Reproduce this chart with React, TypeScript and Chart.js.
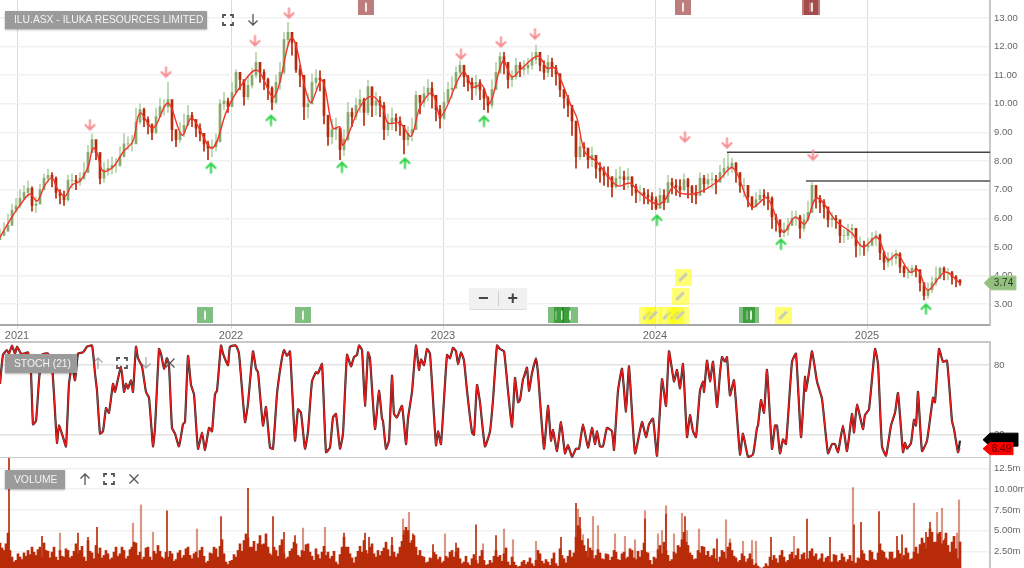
import React, { useEffect, useRef } from "react";
import { Chart, registerables } from "chart.js";

Chart.register(...registerables);

// time axis: trading-session number
const yearSessions = [17, 231, 443, 655, 867];
const yearLabels = ["2021", "2022", "2023", "2024", "2025"];
const sessionMin = 0;
const sessionMax = 990;
const candleSessionStep = 4;

const priceTicks = [3, 4, 5, 6, 7, 8, 9, 10, 11, 12, 13];
const stochTicks = [20, 80];
const volumeTicks = [2.5, 5, 7.5, 10, 12.5];
const volumeTickLabels = ["2.50m", "5.00m", "7.50m", "10.00m", "12.5m"];

const closes = [
  5.40,5.55,5.75,6.28,6.43,6.70,6.90,7.05,6.45,6.50,
  7.00,7.40,7.50,7.40,6.90,6.80,6.65,7.33,7.33,7.27,
  7.40,7.60,8.30,8.75,8.30,7.40,7.70,7.75,7.85,7.85,
  8.15,8.60,8.60,8.60,9.37,9.80,9.45,9.27,9.00,9.55,
  9.90,9.90,10.15,9.10,8.75,9.00,9.25,9.60,9.45,9.15,
  8.97,8.60,8.45,8.50,8.67,10.00,10.10,9.90,10.40,11.10,
  10.85,10.25,10.65,11.00,11.45,11.10,10.85,10.55,10.05,10.75,
  11.10,12.25,12.50,12.15,11.20,11.00,9.90,10.00,10.75,10.90,
  10.85,9.60,8.85,9.10,9.15,8.40,8.75,9.70,9.55,9.95,
  10.15,9.70,10.60,9.95,10.10,9.95,9.10,9.35,9.50,9.40,
  9.25,8.75,8.97,9.10,10.30,10.05,10.35,10.55,10.30,9.80,
  9.50,10.05,10.50,10.55,11.10,11.35,10.95,10.75,10.55,10.75,
  10.50,10.20,9.95,10.50,11.10,11.65,11.45,10.85,10.95,11.35,
  11.20,11.25,11.35,11.55,11.80,11.35,11.10,11.45,11.25,11.05,
  10.50,10.20,9.95,9.40,8.15,8.50,8.45,8.05,8.20,7.75,
  7.65,7.50,7.45,7.10,7.40,7.45,7.35,7.45,7.10,6.90,
  6.90,6.80,6.75,6.65,6.35,6.80,6.55,7.25,7.15,7.10,
  7.00,7.35,7.10,6.90,6.80,7.40,7.20,7.35,7.35,7.27,
  7.60,7.75,7.80,7.93,7.60,7.15,7.15,6.75,6.40,6.65,
  6.80,6.75,6.70,6.05,5.95,5.50,5.60,5.75,6.00,6.05,
  5.65,5.95,6.20,7.15,6.70,6.55,6.40,5.95,6.00,5.95,
  5.40,5.40,5.60,5.65,5.05,5.05,5.00,5.05,5.30,5.40,
  4.80,4.47,4.60,4.60,4.75,4.30,4.10,4.10,4.25,4.20,
  3.75,3.30,3.50,3.75,3.90,4.25,4.10,4.10,3.95,3.85,
  3.74,
];
const highs = [
  5.62,5.85,6.15,6.50,6.70,7.00,7.15,7.30,7.10,6.75,
  7.20,7.55,7.72,7.60,7.45,7.00,6.95,7.50,7.55,7.50,
  7.60,7.95,8.55,8.95,8.70,7.85,7.95,8.05,8.15,8.10,
  8.50,8.95,8.85,8.90,9.85,10.00,9.85,9.55,9.30,9.85,
  10.20,10.15,10.75,10.05,9.05,9.35,9.65,9.95,9.70,9.45,
  9.30,8.90,8.70,8.75,8.95,10.15,10.40,10.20,10.75,11.20,
  11.10,10.70,10.95,11.25,11.80,11.45,11.20,10.90,10.60,11.00,
  11.45,12.50,12.85,12.40,11.85,11.35,10.75,10.35,11.05,11.20,
  11.15,10.85,9.30,9.45,9.50,9.00,9.10,10.05,9.85,10.20,
  10.50,10.20,10.83,10.35,10.40,10.25,10.05,9.65,9.85,9.65,
  9.55,9.25,9.20,9.50,10.45,10.30,10.60,10.85,10.75,10.15,
  9.95,10.40,10.75,10.95,11.30,11.50,11.35,11.00,10.90,11.00,
  10.85,10.55,10.25,10.85,11.45,11.80,11.80,11.30,11.15,11.60,
  11.45,11.50,11.60,11.80,12.05,11.80,11.50,11.70,11.60,11.35,
  11.05,10.50,10.30,9.85,8.80,8.85,8.65,8.45,8.50,8.15,
  7.95,7.80,7.80,7.45,7.70,7.80,7.65,7.75,7.45,7.20,
  7.15,7.05,7.00,6.90,6.75,7.05,7.00,7.50,7.40,7.35,
  7.35,7.55,7.40,7.15,7.15,7.60,7.50,7.55,7.60,7.50,
  7.85,8.10,8.30,8.10,7.95,7.50,7.40,7.15,6.75,6.90,
  7.00,7.00,6.90,6.75,6.15,5.85,5.85,6.00,6.25,6.25,
  6.10,6.15,6.60,7.25,7.05,6.80,6.65,6.20,6.20,6.10,
  5.75,5.60,5.80,5.80,5.50,5.35,5.20,5.30,5.50,5.55,
  5.45,4.85,4.80,4.80,4.90,4.80,4.35,4.30,4.35,4.35,
  4.20,3.70,3.75,3.95,4.30,4.30,4.30,4.25,4.15,4.00,
  3.85,
];
const lows = [
  5.25,5.40,5.55,6.00,6.20,6.35,6.65,6.75,6.25,6.20,
  6.50,7.05,7.25,7.10,6.70,6.50,6.45,6.60,7.05,7.00,
  7.15,7.35,7.60,8.30,8.05,7.20,7.25,7.50,7.55,7.60,
  7.80,8.30,8.40,8.35,8.70,9.30,9.20,8.95,8.75,8.95,
  9.60,9.60,9.70,8.70,8.50,8.65,8.85,9.25,9.20,8.85,
  8.70,8.35,8.05,8.15,8.35,9.50,9.80,9.70,9.90,10.55,
  10.50,9.95,10.15,10.55,10.90,10.75,10.50,10.15,9.80,10.00,
  10.50,11.05,12.00,11.70,11.10,10.60,9.45,9.50,10.00,10.50,
  10.45,9.30,8.55,8.60,8.75,8.05,8.20,8.70,9.20,9.45,
  9.70,9.25,9.60,9.55,9.60,9.55,8.75,8.90,9.10,9.05,
  8.90,8.25,8.55,8.70,9.15,9.65,9.90,10.10,9.85,9.40,
  9.15,9.45,10.00,10.20,10.55,10.95,10.60,10.45,10.15,10.30,
  10.15,9.80,9.70,9.85,10.50,11.05,11.05,10.55,10.60,10.85,
  10.95,11.00,11.05,11.20,11.40,11.15,10.85,10.95,10.95,10.65,
  10.25,9.85,9.55,8.90,7.75,8.05,8.15,7.75,7.80,7.40,
  7.25,7.15,7.10,6.75,7.05,7.15,7.00,7.05,6.80,6.55,
  6.60,6.50,6.50,6.30,6.30,6.50,6.30,6.85,6.85,6.80,
  6.75,6.95,6.70,6.55,6.50,6.95,6.90,7.05,7.05,6.85,
  7.25,7.40,7.50,7.60,7.25,6.90,6.75,6.40,6.30,6.40,
  6.55,6.45,6.30,5.65,5.55,5.35,5.35,5.40,5.75,5.75,
  5.30,5.55,5.90,6.40,6.35,6.20,6.00,5.70,5.70,5.65,
  5.15,5.15,5.25,5.30,4.65,4.70,4.70,4.85,5.10,5.05,
  4.55,4.20,4.30,4.35,4.40,4.10,3.95,3.90,4.00,3.95,
  3.45,3.15,3.20,3.40,3.65,3.95,3.85,3.85,3.70,3.60,
  3.65,
];

const maSessions = [0,10,20,30,37,45,52,58,65,72,80,88,93,97,103,113,123,133,140,153,168,182,192,212,227,240,257,274,292,310,322,333,340,343,360,372,383,388,400,411,420,432,441,463,473,482,490,503,512,522,538,547,555,570,577,585,597,607,618,630,640,657,665,673,680,697,717,733,752,767,783,795,805,817,837,852,863,877,888,897,910,918,928,945,960];
const maValues = [5.34,5.94,6.46,6.85,6.6,7.16,7.41,6.99,6.78,7.16,7.3,7.79,8.45,8.28,7.65,7.79,8.31,8.7,9.68,9.15,10.03,8.91,9.5,8.45,9.78,10.59,11.18,10.24,12.3,10.06,10.83,9.15,9.19,8.56,9.89,10.27,9.85,9.33,9.33,8.87,9.89,10.38,9.57,11.11,10.59,10.66,10.03,11.5,10.94,11.25,11.67,11.25,11.25,10.03,9.5,8.31,7.97,7.51,7.13,7.23,6.88,6.49,6.64,7.09,6.88,6.88,7.27,7.76,6.39,6.71,5.52,6.04,5.8,6.71,5.87,5.48,5.0,5.34,4.54,4.75,4.12,4.19,3.49,4.12,3.73];

const arrowDownSessions = [90,166,255,289,461,501,535,685,727,813];
const arrowDownPrices = [9.26,11.11,12.2,13.17,11.74,12.16,12.44,8.84,8.63,8.21];
const arrowUpSessions = [211,271,342,405,484,657,781,926];
const arrowUpPrices = [7.76,9.43,7.79,7.93,9.4,5.94,5.1,2.83];

const resistanceOne = { from: 727, to: 990, price: 8.31 };
const resistanceTwo = { from: 806, to: 990, price: 7.30 };

const greenMarkerSessions = [205,303,556,562,570,747,751];
const greenMarkerPrices = [2.61,2.61,2.61,2.61,2.61,2.61,2.61];
const redMarkerSessions = [366,683,810,812];
const redMarkerPrices = [13.38,13.38,13.38,13.38];
const noteMarkerSessions = [647,653,667,675,680,680,683,783];
const noteMarkerPrices = [2.61,2.61,2.61,2.61,2.61,3.28,3.94,2.61];

const stochSessions = [0,3,7,9,12,15,17,21,24,28,31,33,36,39,42,45,48,52,54,57,59,63,66,69,72,75,78,83,87,92,95,97,100,103,106,109,113,115,121,124,126,128,131,133,136,138,142,146,149,153,155,159,161,164,167,169,172,175,179,183,185,188,191,194,198,202,205,209,212,215,217,221,223,228,230,236,239,245,248,253,256,258,263,266,270,273,277,281,284,287,290,295,298,301,305,308,312,316,318,322,326,330,333,336,340,343,347,351,354,357,359,362,365,368,370,375,379,382,383,386,389,392,394,397,402,406,408,412,416,419,421,424,427,430,436,438,441,447,450,453,456,458,461,464,467,472,474,477,480,485,490,493,497,500,504,508,512,515,518,520,523,524,527,529,532,536,538,544,548,551,553,557,561,565,568,572,576,579,583,588,592,595,597,600,603,607,612,614,618,622,626,629,635,642,646,649,653,657,662,666,669,674,677,680,683,687,690,693,696,700,703,704,707,710,713,717,720,722,725,727,730,734,740,743,748,753,757,758,761,764,767,772,775,777,780,783,786,792,796,801,805,806,809,812,817,822,828,832,835,838,843,847,852,854,857,863,865,869,875,878,882,886,891,895,898,903,905,907,911,914,916,918,922,927,933,935,939,943,947,952,954,958,960];
const stochK = [64,89,93,90,97,90,96,90,90,91,73,29,32,67,89,90,90,79,55,13,28,18,10,64,80,67,90,91,96,97,73,58,21,23,43,39,64,57,79,57,64,60,67,57,96,86,79,57,52,10,26,94,90,77,86,80,26,21,10,29,31,88,63,55,8,22,7,26,23,55,58,97,90,80,96,97,90,31,47,92,77,74,28,44,9,8,55,81,93,88,92,15,42,39,8,23,66,74,73,81,5,9,35,38,8,21,89,79,87,89,97,93,45,91,86,25,58,34,32,8,15,71,38,35,45,12,34,57,97,76,85,80,94,90,11,23,12,89,86,95,92,81,91,84,58,22,20,63,48,10,23,50,97,94,92,58,27,69,48,50,68,70,78,58,73,86,73,8,45,15,24,6,31,4,11,1,8,8,29,9,26,12,23,10,10,26,23,7,58,77,40,79,4,31,18,29,34,2,68,45,92,66,76,60,81,18,37,23,18,58,66,57,84,66,83,44,73,87,83,87,54,67,3,21,1,3,26,28,50,39,76,8,28,28,4,16,12,83,90,18,70,58,74,92,66,51,4,12,12,5,28,6,38,22,46,25,37,42,94,81,10,2,28,39,56,5,13,8,13,33,28,57,6,15,52,48,94,83,84,32,25,5,14.95];
const stochLastD = 8.49;

// volume, one value every two sessions
const volumeBase = [
  3.5,2.9,2.6,3.4,4.7,2.6,1.8,1.2,1.4,2.2,1.8,1.5,2.3,1.9,2.6,2.1,3.0,2.4,2.0,2.7,
  3.0,1.8,3.5,2.6,2.5,1.7,2.4,3.0,1.8,1.4,2.6,1.9,1.8,2.8,2.6,1.7,1.9,2.5,3.4,2.2,
  2.6,3.1,1.8,1.3,3.8,2.5,2.3,1.6,3.2,2.2,2.9,1.7,2.0,2.6,2.2,1.5,1.7,2.4,3.0,1.9,
  2.2,3.0,2.6,1.6,1.9,2.7,3.0,3.6,3.5,2.0,2.4,1.5,1.8,2.9,3.0,1.8,1.4,2.5,2.2,3.2,
  2.5,1.8,1.6,2.4,1.8,2.5,2.2,1.3,1.5,2.3,2.6,1.7,2.0,2.8,3.0,2.0,1.6,2.2,2.4,1.7,
  2.6,3.0,1.9,1.1,1.3,2.3,2.2,3.0,2.8,1.8,3.1,3.9,2.2,1.2,0.9,1.3,1.4,2.1,1.8,2.6,
  3.4,2.5,3.8,4.6,4.1,3.0,3.0,3.7,2.5,3.4,4.4,3.3,3.4,4.6,3.0,2.2,2.0,3.0,2.6,1.9,
  3.2,3.9,2.2,1.6,1.8,2.5,2.8,3.6,3.4,2.0,1.8,2.6,2.5,3.3,3.4,2.4,1.9,1.4,2.8,2.1,
  1.6,2.4,3.1,2.0,2.4,1.6,1.9,2.5,1.2,0.9,2.1,3.0,4.2,3.0,3.0,2.2,1.7,1.1,1.8,2.5,
  3.1,2.4,3.8,2.6,2.2,3.0,3.4,2.2,1.8,2.6,2.0,2.5,2.9,3.6,2.7,1.9,3.2,2.4,1.8,2.2,
  3.0,3.7,4.5,5.4,5.0,3.5,3.8,4.4,3.0,2.0,2.6,1.9,1.8,1.1,1.2,1.7,1.6,2.4,2.1,1.5,
  1.8,1.1,1.3,1.9,1.7,2.4,2.6,1.8,2.4,2.9,1.6,1.0,1.2,1.9,1.1,0.8,1.6,2.1,1.4,1.0,
  1.9,2.6,1.4,0.8,0.9,1.4,1.1,1.9,2.6,1.8,2.0,1.3,2.2,2.9,1.2,0.8,1.8,1.2,0.8,0.6,
  0.7,1.2,1.4,0.9,1.2,1.7,1.0,0.7,1.4,2.6,2.2,1.3,1.0,1.5,1.2,0.8,1.6,2.3,1.0,0.7,
  2.8,2.0,1.6,1.1,1.9,2.6,1.8,2.3,4.2,5.6,5.2,3.8,3.2,2.5,1.8,2.9,2.6,1.6,2.0,2.7,
  2.3,1.6,1.5,2.2,2.1,1.4,1.8,2.6,2.4,1.5,1.4,2.2,2.4,1.6,1.8,2.8,2.6,1.7,1.5,2.5,
  1.8,2.6,3.5,2.4,2.3,1.4,0.9,1.8,1.6,2.7,3.2,2.2,3.6,2.6,2.0,1.3,1.5,2.4,2.2,3.2,
  3.0,3.9,4.8,3.6,3.2,2.3,2.0,1.5,1.6,2.6,2.3,3.1,3.0,2.0,2.5,1.8,2.0,2.8,1.6,1.2,
  1.8,2.6,2.4,1.6,3.0,3.5,2.6,1.9,1.7,1.2,1.4,2.2,1.9,1.2,1.6,2.2,1.5,0.8,1.0,0.7,
  0.5,0.4,0.6,1.0,0.7,1.8,1.4,2.0,1.6,1.1,2.0,2.6,1.8,1.2,1.4,2.1,2.4,1.6,2.0,2.8,
  1.5,2.1,2.3,1.5,1.6,2.5,2.8,1.9,2.2,1.4,1.6,2.2,1.2,1.7,1.9,1.2,1.2,2.1,2.0,1.2,
  1.4,2.2,1.8,1.2,1.5,2.0,1.3,0.9,1.1,1.7,1.6,2.6,2.2,1.4,1.3,2.6,2.4,1.5,1.4,2.3,
  3.4,2.6,2.4,1.7,1.5,2.4,2.4,1.6,1.7,2.6,2.2,1.5,2.0,2.9,2.3,1.5,1.6,2.4,3.0,2.2,
  3.3,4.1,3.5,2.8,4.2,5.2,4.8,3.6,3.6,4.6,4.8,3.4,3.8,4.7,3.2,2.4,3.6,4.3,2.8,1.6,
  3.6,
];
const spikeDarkSessions = [9,42,78,88,97,167,221,248,273,284,295,344,365,369,392,404,413,433,456,476,496,561,576,580,588,645,666,685,717,771,807,830,854,861,879,897,902,926,930,945,960];
const spikeDarkValues = [13.8,4.3,4.7,4.2,5.4,7.4,6.7,10.1,6.7,4.8,4.4,4.7,4.7,4.2,4.2,5.0,4.6,3.3,3.5,5.7,4.4,4.2,8.3,6.6,4.0,6.4,7.0,6.7,4.0,4.2,6.4,4.2,5.7,6.0,7.3,4.3,4.5,4.8,6.0,4.0,3.6];
const spikeLightSessions = [60,133,141,153,197,303,325,403,409,445,483,504,513,536,578,583,593,598,615,625,635,645,658,662,666,674,682,687,699,726,730,743,752,756,794,853,914,937,942,957,959];
const spikeLightValues = [4.7,5.9,8.1,4.8,5.2,5.3,5.4,6.4,7.2,4.6,3.4,5.2,3.9,3.7,7.6,4.5,6.7,5.6,4.6,4.3,3.9,7.4,4.6,5.0,8.0,4.6,7.1,5.0,5.2,6.3,4.0,3.7,3.8,3.7,4.3,10.2,8.3,7.2,7.7,4.7,8.7];

const FONT = "'Liberation Sans', Arial, sans-serif";
const TICK = "#666666";
const GRID = "#f1f1f1";
const DOWN = "#b32c0c";
const UP = "#b2d3a6";
const UP_BODY = "#86a96f";
const VOL = "#b82c0a";

const zip = (xs: number[], ys: number[]) => xs.map((x, i) => ({ x, y: ys[i] }));

function arrowSprite(color: string, up: boolean) {
  const c = document.createElement("canvas");
  c.width = 13;
  c.height = 13;
  const g = c.getContext("2d")!;
  g.strokeStyle = color;
  g.lineWidth = 2;
  g.lineCap = "round";
  if (!up) { g.translate(0, 13); g.scale(1, -1); }
  g.beginPath();
  g.moveTo(6.5, 11.5); g.lineTo(6.5, 2);
  g.moveTo(2, 6.5); g.lineTo(6.5, 2); g.lineTo(11, 6.5);
  g.stroke();
  return c;
}

function boxSprite(fill: string, size: number, pencil: boolean) {
  const c = document.createElement("canvas");
  c.width = size;
  c.height = size;
  const g = c.getContext("2d")!;
  g.fillStyle = fill;
  g.fillRect(0, 0, size, size);
  if (pencil) {
    g.strokeStyle = "rgba(195,195,195,0.9)";
    g.lineWidth = 3;
    g.beginPath();
    g.moveTo(size * 0.28, size * 0.72);
    g.lineTo(size * 0.72, size * 0.28);
    g.stroke();
  } else {
    g.fillStyle = "rgba(255,255,255,0.85)";
    g.fillRect(size / 2 - 1, size * 0.22, 2, size * 0.56);
  }
  return c;
}

function tag(
  ctx: CanvasRenderingContext2D, left: number, y: number, w: number, h: number,
  fill: string, stroke: string, text: string, textColor: string,
) {
  ctx.save();
  ctx.fillStyle = fill;
  ctx.strokeStyle = stroke;
  ctx.beginPath();
  ctx.moveTo(left, y);
  ctx.lineTo(left + 7, y - h / 2);
  ctx.lineTo(left + w, y - h / 2);
  ctx.lineTo(left + w, y + h / 2);
  ctx.lineTo(left + 7, y + h / 2);
  ctx.closePath();
  ctx.fill();
  ctx.stroke();
  ctx.fillStyle = textColor;
  ctx.font = `10px ${FONT}`;
  ctx.textAlign = "center";
  ctx.textBaseline = "middle";
  ctx.fillText(text, left + (w + 7) / 2, y + 0.5);
  ctx.restore();
}

function xScale(opts: any = {}) {
  return {
    type: "linear",
    min: sessionMin,
    max: sessionMax,
    offset: false,
    display: false,
    grid: { offset: false },
    ...opts,
  };
}

function yScale(min: number, max: number, values: number[], label: (v: number) => string, gridColor = GRID) {
  return {
    type: "linear",
    position: "right",
    min,
    max,
    afterFit: (s: any) => { s.width = 34; s.paddingTop = 0; s.paddingBottom = 0; },
    afterBuildTicks: (s: any) => { s.ticks = values.map((value) => ({ value })); },
    border: { display: true, color: "#c8c8c8", width: 2 },
    grid: { color: gridColor, lineWidth: 1.5, drawTicks: false },
    ticks: {
      color: TICK,
      font: { family: FONT, size: 9.5 },
      padding: 4,
      autoSkip: false,
      callback: (v: number) => label(Number(v)),
    },
  };
}

const common = (): any => ({
  responsive: false,
  animation: false,
  maintainAspectRatio: false,
  events: [],
  layout: { padding: 0, autoPadding: false },
  plugins: { legend: { display: false }, tooltip: { enabled: false } },
});

function priceChart(canvas: HTMLCanvasElement) {
  const sessions = closes.map((_, i) => i * candleSessionStep);
  const opens = closes.map((c, i) => (i === 0 ? lows[0] : closes[i - 1]));
  const wickColors = closes.map((c, i) => (c >= opens[i] ? UP : DOWN));
  const bodyColors = closes.map((c, i) => (c >= opens[i] ? UP_BODY : DOWN));
  return new Chart(canvas, {
    type: "bar",
    data: {
      datasets: [
        { type: "line", data: zip(maSessions, maValues), borderColor: "#f2332a", borderWidth: 1.4, pointRadius: 0, tension: 0.35, order: 1 },
        { type: "line", data: [{ x: resistanceOne.from, y: resistanceOne.price }, { x: resistanceOne.to, y: resistanceOne.price }], borderColor: "#444444", borderWidth: 1.5, pointRadius: 0, order: 2 },
        { type: "line", data: [{ x: resistanceTwo.from, y: resistanceTwo.price }, { x: resistanceTwo.to, y: resistanceTwo.price }], borderColor: "#7d7d7d", borderWidth: 2, pointRadius: 0, order: 2 },
        { type: "scatter", data: zip(arrowDownSessions, arrowDownPrices), pointStyle: arrowSprite("#f58d92", false), pointRadius: 3, clip: false, order: 0 },
        { type: "scatter", data: zip(arrowUpSessions, arrowUpPrices), pointStyle: arrowSprite("#2fd34a", true), pointRadius: 3, clip: false, order: 0 },
        { type: "scatter", data: zip(greenMarkerSessions, greenMarkerPrices), pointStyle: boxSprite("rgba(0,128,0,0.5)", 16, false), pointRadius: 3, clip: false, order: 0 },
        { type: "scatter", data: zip(redMarkerSessions, redMarkerPrices), pointStyle: boxSprite("rgba(150,45,45,0.62)", 16, false), pointRadius: 3, clip: false, order: 0 },
        { type: "scatter", data: zip(noteMarkerSessions, noteMarkerPrices), pointStyle: boxSprite("rgba(255,255,0,0.55)", 17, true), pointRadius: 3, clip: false, order: 0 },
        { type: "bar", data: sessions.map((x, i) => ({ x, y: [opens[i], closes[i]] })), backgroundColor: bodyColors, barThickness: 2, grouped: false, order: 3 },
        { type: "bar", data: sessions.map((x, i) => ({ x, y: [lows[i], highs[i]] })), backgroundColor: wickColors, barThickness: 1, grouped: false, order: 4 },
      ] as any,
    },
    options: {
      ...common(),
      scales: {
        x: xScale({
          display: true,
          afterFit: (s: any) => { s.height = 16; s.paddingLeft = 0; s.paddingRight = 0; },
          afterBuildTicks: (s: any) => { s.ticks = yearSessions.map((value) => ({ value })); },
          border: { display: true, color: "#a8a8a8", width: 2 },
          grid: { offset: false, color: "#dcdcdc", lineWidth: 1, tickLength: 4, tickColor: "#dcdcdc" },
          ticks: {
            color: TICK,
            font: { family: FONT, size: 11 },
            padding: 0,
            maxRotation: 0,
            autoSkip: false,
            callback: (v: number) => yearLabels[yearSessions.indexOf(Number(v))],
          },
        }),
        y: yScale(2.27, 13.63, priceTicks, (v) => v.toFixed(2)),
      },
    } as any,
    plugins: [{
      id: "lastPrice",
      afterDraw(chart: any) {
        const y = chart.scales.y.getPixelForValue(closes[closes.length - 1]);
        tag(chart.ctx, 984, y, 32, 14, "#93c07f", "#a9cf98", closes[closes.length - 1].toFixed(2), "#2f3a2a");
      },
    }],
  });
}

function stochChart(canvas: HTMLCanvasElement) {
  const stochD = stochK.map((v, i) => (i === stochK.length - 1 ? stochLastD : v));
  return new Chart(canvas, {
    type: "line",
    data: {
      datasets: [
        { data: zip(stochSessions, stochD), borderColor: "#ee1c1c", borderWidth: 1.3, pointRadius: 0, tension: 0.15, order: 0 },
        { data: zip(stochSessions, stochK), borderColor: "#2a2a2a", borderWidth: 2.2, pointRadius: 0, tension: 0.15, order: 1 },
      ],
    },
    options: {
      ...common(),
      scales: {
        x: xScale(),
        y: yScale(0, 100.9, stochTicks, (v) => String(v), "#e2e2e2"),
      },
    } as any,
    plugins: [{
      id: "panel",
      beforeDatasetsDraw(chart: any) {
        const { ctx, chartArea: a } = chart;
        ctx.save();
        ctx.strokeStyle = "#c8c8c8";
        ctx.lineWidth = 2;
        ctx.beginPath();
        ctx.moveTo(0, a.top + 1); ctx.lineTo(a.right, a.top + 1);
        ctx.moveTo(0, a.bottom); ctx.lineTo(a.right, a.bottom);
        ctx.stroke();
        ctx.restore();
      },
      afterDraw(chart: any) {
        const s = chart.scales.y;
        const k = stochK[stochK.length - 1];
        tag(chart.ctx, 983, s.getPixelForValue(k) - 1, 35, 13, "#000000", "#000000", k.toFixed(2), "#000000");
        tag(chart.ctx, 983, s.getPixelForValue(stochLastD) + 0.5, 30, 12, "#ff0000", "#ff0000", stochLastD.toFixed(2), "#5a0000");
      },
    }],
  });
}

function volumeChart(canvas: HTMLCanvasElement) {
  return new Chart(canvas, {
    type: "bar",
    data: {
      datasets: [
        { data: volumeBase.map((y, i) => ({ x: i * 2, y })), backgroundColor: VOL, barThickness: 2, grouped: false, order: 0 },
        { data: zip(spikeDarkSessions, spikeDarkValues), backgroundColor: VOL, barThickness: 1, grouped: false, order: 1 },
        { data: zip(spikeLightSessions, spikeLightValues), backgroundColor: "rgba(184,44,10,0.5)", barThickness: 1.5, grouped: false, order: 2 },
      ],
    },
    options: {
      ...common(),
      scales: {
        x: xScale(),
        y: yScale(0.48, 13.77, volumeTicks, (v) => volumeTickLabels[volumeTicks.indexOf(v)]),
      },
    } as any,
  });
}

const badge = (left: number, top: number, w: number, h: number): React.CSSProperties => ({
  position: "absolute",
  left,
  top,
  width: w,
  height: h,
  lineHeight: `${h}px`,
  background: "#9b9b9b",
  color: "#f4f4f4",
  fontFamily: FONT,
  fontSize: 10.3,
  paddingLeft: 9,
  boxSizing: "border-box",
  boxShadow: "0 1px 2px rgba(0,0,0,0.3)",
  whiteSpace: "nowrap",
});

function Icon({ kind, x, y, opacity = 1 }: { kind: string; x: number; y: number; opacity?: number }) {
  const paths: Record<string, string> = {
    up: "M7 13V2M2.5 6.5L7 2l4.5 4.5",
    down: "M7 1v11M2.5 7.5L7 12l4.5-4.5",
    full: "M2 5V2h3M9 2h3v3M12 9v3H9M5 12H2V9",
    close: "M2.5 2.5l9 9M11.5 2.5l-9 9",
  };
  return (
    <svg width={14} height={14} viewBox="0 0 14 14" style={{ position: "absolute", left: x - 7, top: y - 7, opacity }}>
      <path d={paths[kind]} fill="none" stroke="#555" strokeWidth={kind === "full" ? 1.8 : 1.3} />
    </svg>
  );
}

export default function App() {
  const price = useRef<HTMLCanvasElement>(null);
  const stoch = useRef<HTMLCanvasElement>(null);
  const volume = useRef<HTMLCanvasElement>(null);

  useEffect(() => {
    document.body.style.margin = "0";
    document.body.style.overflow = "hidden";
    const charts = [priceChart(price.current!), stochChart(stoch.current!), volumeChart(volume.current!)];
    return () => charts.forEach((c) => c.destroy());
  }, []);

  return (
    <div style={{ position: "relative", width: 1024, height: 568, overflow: "hidden", background: "#fff" }}>
      <canvas ref={price} width={1024} height={341} style={{ position: "absolute", left: 0, top: 0, width: 1024, height: 341 }} />
      <canvas ref={stoch} width={1024} height={117} style={{ position: "absolute", left: 0, top: 341, width: 1024, height: 117 }} />
      <canvas ref={volume} width={1024} height={110} style={{ position: "absolute", left: 0, top: 458, width: 1024, height: 110 }} />

      <div style={badge(5, 11, 202, 18)}>ILU.ASX - ILUKA RESOURCES LIMITED</div>
      <Icon kind="full" x={228} y={20} />
      <Icon kind="down" x={253} y={20} />

      <div style={badge(5, 354, 72, 19)}>STOCH (21)</div>
      <Icon kind="up" x={98} y={363} opacity={0.5} />
      <Icon kind="full" x={122} y={363} />
      <Icon kind="down" x={146} y={363} opacity={0.5} />
      <Icon kind="close" x={170} y={363} />

      <div style={badge(5, 470, 60, 19)}>VOLUME</div>
      <Icon kind="up" x={85} y={479} />
      <Icon kind="full" x={109} y={479} />
      <Icon kind="close" x={134} y={479} />

      <div style={{ position: "absolute", left: 469, top: 288, width: 58, height: 21, background: "#f1f1f1", borderRadius: 2, boxShadow: "0 1px 1px rgba(0,0,0,0.15)", display: "flex", alignItems: "center", color: "#444", fontFamily: FONT, fontWeight: 700, fontSize: 18 }}>
        <span style={{ flex: 1, textAlign: "center", borderRight: "1px solid #cfcfcf", lineHeight: "15px" }}>−</span>
        <span style={{ flex: 1, textAlign: "center", lineHeight: "15px" }}>+</span>
      </div>
    </div>
  );
}
